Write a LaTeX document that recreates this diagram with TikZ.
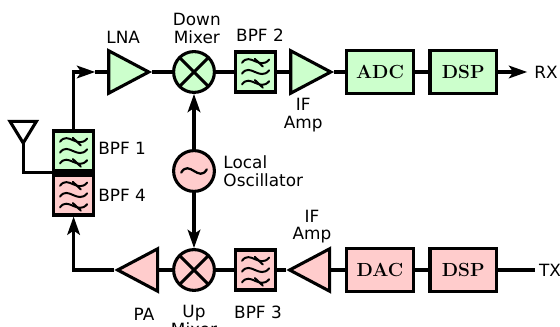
\documentclass[tikz,border=0pt]{standalone}
\usepackage{fontspec}
\setmainfont{DejaVu Sans}
\newfontfamily\blockfont{Latin Modern Roman}
\usetikzlibrary{shapes.geometric,arrows.meta,calc}
\definecolor{rxgreen}{RGB}{204,255,204}
\definecolor{txred}{RGB}{255,204,204}
\tikzset{
  wire/.style={line width=2.2pt,line join=miter},
  sigarrow/.style={wire,-{Stealth[length=13pt,width=9pt,inset=3pt]}},
  blockbox/.style={draw,line width=2.2pt,minimum width=1.66cm,minimum height=1.08cm,font=\blockfont\bfseries\fontsize{13.5}{13.5}\selectfont},
  filterbox/.style={draw,line width=2.2pt,minimum width=1cm,minimum height=1cm,inner sep=0pt},
  ampright/.style={draw,line width=2.2pt,isosceles triangle,isosceles triangle apex angle=52,isosceles triangle stretches,minimum width=1.06cm,minimum height=1cm,inner sep=0pt},
  ampleft/.style={ampright,shape border rotate=180},
  mixer/.style={draw,line width=2.2pt,circle,minimum size=1.02cm,inner sep=0pt,
    path picture={\draw[line width=2.2pt] (path picture bounding box.north west) -- (path picture bounding box.south east)
      (path picture bounding box.north east) -- (path picture bounding box.south west);}},
  label/.style={font=\fontsize{12}{12.5}\selectfont,align=center,inner sep=0pt}
}
% the three wavy lines with two slashes inside a band pass filter
\newcommand{\filterwaves}[1]{
  \foreach \dy in {-0.27,0,0.27}
    \draw[line width=1.4pt,line cap=round] ($(#1)+(-0.34,\dy-0.04)$) .. controls ($(#1)+(-0.14,\dy+0.24)$) and ($(#1)+(0.1,\dy-0.24)$) .. ($(#1)+(0.34,\dy+0.04)$);
  \draw[line width=1.4pt,line cap=round] ($(#1)+(-0.02,0.33)$) -- ($(#1)+(0.18,0.14)$);
  \draw[line width=1.4pt,line cap=round] ($(#1)+(-0.02,-0.2)$) -- ($(#1)+(0.18,-0.39)$);
}
\begin{document}
\begin{tikzpicture}
  \useasboundingbox (0,0) rectangle (14,8.175);
  % receive chain
  \node[ampright,fill=rxgreen,anchor=lower side] (lna) at (2.68,6.375) {};
  \node[mixer,fill=rxgreen] (downmix) at (4.85,6.375) {};
  \node[filterbox,fill=rxgreen] (bpftwo) at (6.39,6.375) {};
  \node[ampright,fill=rxgreen,anchor=lower side] (ifrx) at (7.23,6.375) {};
  \node[blockbox,fill=rxgreen] (adc) at (9.5,6.375) {ADC};
  \node[blockbox,fill=rxgreen] (dsprx) at (11.58,6.375) {DSP};
  \coordinate (lnain) at (2.38,6.375);
  \coordinate (rxend) at (13.18,6.375);
  \node[label,anchor=west] (rxlabel) at (13.35,6.375) {RX};
  % transmit chain
  \node[ampleft,fill=txred,anchor=lower side] (pa) at (3.98,1.425) {};
  \node[mixer,fill=txred] (upmix) at (4.85,1.425) {};
  \node[filterbox,fill=txred] (bpfthree) at (6.39,1.425) {};
  \node[ampleft,fill=txred,anchor=lower side] (iftx) at (8.28,1.425) {};
  \node[blockbox,fill=txred] (dac) at (9.5,1.425) {DAC};
  \node[blockbox,fill=txred] (dsptx) at (11.58,1.425) {DSP};
  \coordinate (txend) at (13.38,1.425);
  \node[label,anchor=west] (txlabel) at (13.47,1.425) {TX};
  % duplexer and antenna
  \node[filterbox,fill=rxgreen] (bpfone) at (1.84,4.4) {};
  \node[filterbox,fill=txred] (bpffour) at (1.84,3.3) {};
  \coordinate (anttop) at (0.58,4.6);
  \coordinate (antfoot) at (0.58,3.87);
  \node[mixer,fill=txred,path picture={}] (lo) at (4.85,3.9) {};
  \draw[line width=1.6pt,line cap=round] ($(lo)+(-0.32,-0.04)$) .. controls ($(lo)+(-0.12,0.3)$) and ($(lo)+(0.12,-0.3)$) .. ($(lo)+(0.32,0.04)$);
  \filterwaves{bpfone}
  \filterwaves{bpffour}
  \filterwaves{bpftwo}
  \filterwaves{bpfthree}
  % connectors
  \draw[sigarrow] (bpfone.north) |- (lnain);
  \draw[wire] (lnain) -- (lna.lower side);
  \draw[wire] (lna.apex) -- (downmix);
  \draw[wire] (downmix) -- (bpftwo);
  \draw[wire] (bpftwo) -- (ifrx.lower side);
  \draw[wire] (ifrx.apex) -- (adc);
  \draw[wire] (adc) -- (dsprx);
  \draw[sigarrow] (dsprx) -- (rxend);
  \draw[wire] (dsptx) -- (txend);
  \draw[wire] (dsptx) -- (dac);
  \draw[wire] (dac) -- (iftx.lower side);
  \draw[wire] (iftx.apex) -- (bpfthree);
  \draw[wire] (bpfthree) -- (upmix);
  \draw[wire] (upmix) -- (pa.lower side);
  \draw[sigarrow] (pa.apex) -| (bpffour.south);
  \draw[sigarrow] (lo) -- (downmix);
  \draw[sigarrow] (lo) -- (upmix);
  \draw[wire] (bpfone.south west) -| (antfoot) -- (anttop);
  \draw[wire] (anttop) -- ++(-0.33,0.54) -- ++(0.66,0) -- cycle;
  % labels
  \node[label] (lnalabel) at (3.08,7.25) {LNA};
  \node[label] (downlabel) at (4.92,7.46) {Down\\Mixer};
  \node[label] (bpftwolabel) at (6.5,7.3) {BPF 2};
  \node[label] (iflabelrx) at (7.58,5.3) {IF\\Amp};
  \node[label,anchor=west] (bpfonelabel) at (2.45,4.475) {BPF 1};
  \node[label,anchor=west] (bpffourlabel) at (2.45,3.3) {BPF 4};
  \node[label,anchor=west,align=left] (lolabel) at (5.58,3.9) {Local\\Oscillator};
  \node[label] (iflabeltx) at (7.8,2.51) {IF\\Amp};
  \node[label] (palabel) at (3.6,0.325) {PA};
  \node[label] (uplabel) at (4.85,0.16) {Up\\Mixer};
  \node[label] (bpfthreelabel) at (6.45,0.375) {BPF 3};
\end{tikzpicture}
\end{document}
